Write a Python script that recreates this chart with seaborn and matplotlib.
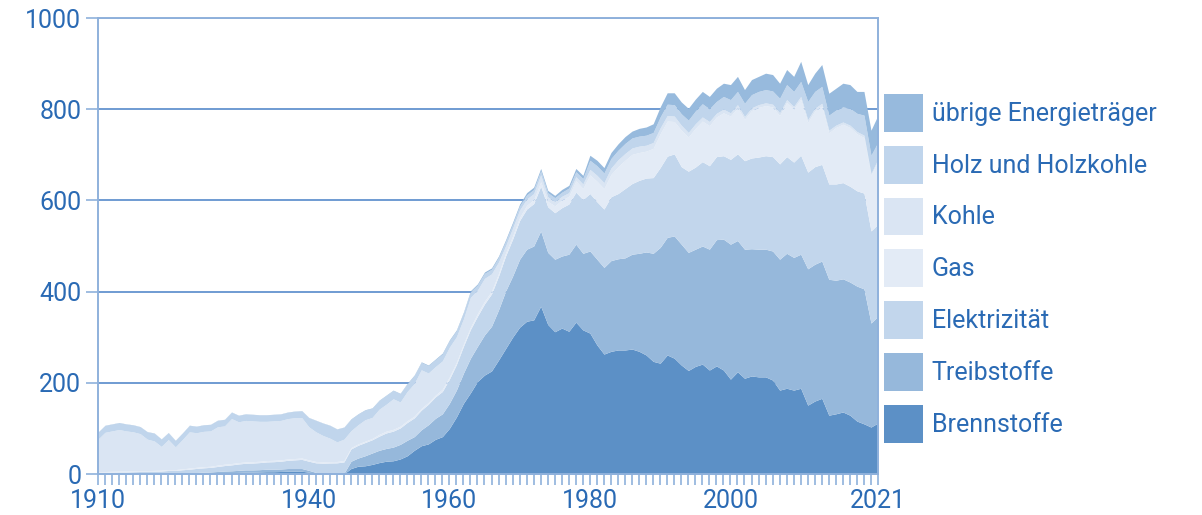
import matplotlib
matplotlib.use("Agg")
import matplotlib.pyplot as plt
import numpy as np
import pandas as pd
import seaborn as sns
from matplotlib.patches import Patch

# Endenergieverbrauch nach Energieträger, 1910-2021
years = list(range(1910, 2022))

brennstoffe = [
    0, 0, 0, 0, 0, 0, 0, 0, 0, 0,
    0.2, 0.2, 0.3, 0.5, 0.7, 1, 1.5, 2, 2.5, 3,
    3.5, 4, 4, 4.5, 5, 5, 5.5, 6, 6, 6,
    4, 1, 0.3, 0.2, 0, 0.5, 12, 17, 18, 21,
    25, 28, 29, 33, 40, 52, 62, 66, 76, 82,
    100, 125, 155, 178, 203, 217, 226, 250, 275, 300,
    322, 335, 338, 368, 328, 312, 320, 313, 333, 316,
    309, 283, 263, 269, 272, 272, 274, 269, 261, 247,
    243, 261, 254, 239, 227, 236, 241, 228, 237, 228,
    208, 224, 210, 215, 213, 213, 206, 184, 188, 184,
    188, 151, 160, 166, 129, 132, 136, 129, 116, 110,
    103, 112,
]
treibstoffe = [
    0.5, 0.5, 0.5, 0.5, 0.5, 0.5, 0.5, 0.5, 0.5, 1,
    1.5, 1.5, 2, 2, 2.5, 3, 3, 3.5, 4, 4,
    4.5, 5, 5, 5, 5.5, 5.5, 5.5, 6, 6, 6,
    4, 2.5, 1.5, 1, 0.5, 1, 16, 18, 22, 25,
    27, 28, 30, 32, 34, 30, 35, 42, 46, 50,
    55, 59, 66, 76, 77, 88, 98, 110, 126, 134,
    149, 158, 162, 165, 158, 159, 158, 169, 171, 168,
    180, 188, 190, 199, 200, 202, 208, 215, 226, 237,
    254, 258, 268, 265, 259, 257, 259, 265, 277, 287,
    296, 288, 283, 279, 280, 280, 283, 287, 296, 291,
    294, 299, 300, 301, 298, 293, 292, 292, 296, 296,
    228, 234,
]
elektrizitaet = [
    3, 3, 3.5, 4, 4, 4.5, 5, 5, 5.5, 5.5,
    6, 6, 7, 8, 9, 9.5, 10, 11, 12, 13,
    14, 14.5, 15, 15.5, 16, 16.5, 17, 18, 19, 20,
    20, 21, 22, 23, 24, 25, 27, 28, 29, 29,
    31, 34, 35, 36, 39, 41, 43, 45, 47, 49,
    53, 56, 59, 63, 66, 68, 71, 74, 77, 81,
    85, 88, 93, 98, 100, 102, 106, 110, 114, 118,
    126, 126, 128, 140, 143, 152, 155, 160, 162, 166,
    175, 178, 180, 170, 178, 180, 185, 183, 182, 183,
    186, 190, 194, 199, 202, 205, 207, 209, 212, 209,
    217, 212, 214, 212, 209, 211, 211, 210, 209, 210,
    202, 202,
]
gas = [
    2, 2, 2, 2, 2, 2, 2, 2, 2, 2,
    2, 2, 2, 2.5, 2.5, 2.5, 2.5, 3, 3, 3,
    3, 3, 3, 3, 3, 3, 3, 3, 3, 3,
    3, 3, 3, 3, 3, 3, 3, 3, 3, 3,
    4, 4, 4, 4, 4, 4, 4, 4, 4, 5,
    5, 5, 5, 5, 6, 6, 6, 6, 7, 7,
    7, 8, 9, 10, 12, 15, 17, 17, 25, 24,
    41, 45, 45, 49, 59, 62, 64, 61, 59, 64,
    74, 77, 71, 80, 75, 85, 89, 88, 87, 94,
    95, 101, 91, 104, 109, 110, 109, 106, 119, 117,
    123, 109, 122, 128, 112, 124, 128, 129, 125, 122,
    122, 139,
]
kohle = [
    71, 86, 88.5, 91, 88, 85.5, 81, 69, 64.5, 52,
    65.8, 49.8, 64.2, 79.5, 75.8, 77.5, 77.5, 84, 84, 98.5,
    89.5, 91, 89.5, 87.5, 86, 86.5, 86.5, 88.5, 89.5, 88.5,
    72.5, 65, 57.7, 51.3, 43, 47, 37, 42, 47, 46,
    55, 59, 67, 53, 64, 71.5, 84.5, 64.5, 62.5, 62,
    65, 56, 55, 65.5, 51.5, 50, 38, 25, 15, 17,
    16, 14, 13, 15, 10, 9, 8, 8, 9, 10,
    12, 13, 13, 14, 15, 15, 14, 14, 13, 13,
    13, 12, 12, 11, 10, 10, 9, 9, 8, 8,
    7, 7, 6, 6, 6, 6, 6, 6, 6, 5,
    6, 6, 6, 6, 6, 5, 5, 5, 5, 5,
    4, 4,
]
holz = [
    15, 15, 15, 15, 15, 15, 15, 16, 17, 16,
    15, 14, 14, 14, 14, 14, 14, 14, 14, 14,
    14, 14, 14, 14, 14, 14, 14, 14, 14, 15,
    20, 25, 27, 28, 28, 26, 25, 23, 21, 20,
    19, 19, 18, 18, 17, 17, 16, 16, 15, 15,
    14, 13, 13, 12, 11, 11, 10, 10, 10, 9,
    9, 9, 9, 9, 9, 9, 9, 10, 11, 12,
    20, 21, 21, 21, 21, 22, 22, 22, 22, 22,
    24, 25, 25, 25, 27, 28, 29, 28, 26, 28,
    29, 29, 29, 29, 29, 29, 29, 32, 33, 33,
    33, 40, 37, 37, 33, 33, 33, 37, 40, 44,
    40, 37,
]
uebrige = [
    0.5, 0.5, 0.5, 0.5, 0.5, 0.5, 0.5, 0.5, 0.5, 0.5,
    0.5, 0.5, 0.5, 0.5, 0.5, 0.5, 0.5, 0.5, 0.5, 0.5,
    0.5, 0.5, 0.5, 0.5, 0.5, 0.5, 0.5, 0.5, 0.5, 0.5,
    0.5, 0.5, 0.5, 0.5, 0.5, 0.5, 1, 1, 1, 1,
    1, 1, 1, 1, 1, 1.5, 1.5, 1.5, 1.5, 2,
    2, 2, 2, 2.5, 2.5, 3, 3, 3, 3.5, 4,
    4, 5, 5, 5, 5, 5, 6, 6, 7, 7,
    11, 12, 12, 13, 14, 15, 15, 17, 18, 19,
    22, 25, 26, 26, 26, 26, 27, 27, 29, 29,
    33, 33, 30, 33, 33, 36, 36, 33, 33, 33,
    44, 37, 40, 48, 48, 48, 52, 52, 48, 52,
    55, 59,
]

labels = ["Brennstoffe", "Treibstoffe", "Elektrizität", "Gas", "Kohle",
          "Holz und Holzkohle", "übrige Energieträger"]
colors = ["#5c90c6", "#96b8db", "#c2d6ec", "#e3ebf6", "#dae5f3",
          "#c0d5ec", "#97badd"]
x_labels = [1910, 1940, 1960, 1980, 2000, 2021]

df = pd.DataFrame(
    dict(zip(labels, [brennstoffe, treibstoffe, elektrizitaet, gas, kohle,
                      holz, uebrige])),
    index=years,
)

text_col = "#2a6ab4"
line_col = "#8fb1dc"
grid_col = "#6f9bd2"

sns.set_theme(style="white")
plt.rcParams["font.family"] = ["Roboto", "DejaVu Sans"]

fig = plt.figure(figsize=(12.02, 5.15), dpi=100)
ax = fig.add_axes([98 / 1202, 41 / 515, 780 / 1202, 456 / 515])

pal = sns.color_palette(colors)
ax.stackplot(df.index, df.T.values, colors=pal, linewidth=0)

ax.set_xlim(1910, 2021)
ax.set_ylim(0, 1000)
ax.set_xticks(x_labels)
ax.set_xticks(years, minor=True)
ax.set_yticks(range(0, 1001, 200))
ax.yaxis.grid(True, color=grid_col, linewidth=1.4)
ax.set_axisbelow(True)

for side in ["left", "bottom", "top", "right"]:
    ax.spines[side].set_color(line_col)
    ax.spines[side].set_linewidth(1.4)

ax.tick_params(axis="x", which="both", direction="out", length=8, width=1.2,
               color=line_col, labelsize=18, labelcolor=text_col, pad=3,
               bottom=True)
ax.tick_params(axis="y", which="major", direction="out", length=9, width=1.2,
               color=line_col, labelsize=18, labelcolor=text_col, pad=3,
               left=True)

handles = [Patch(facecolor=c, edgecolor="none") for c in pal]
fig.legend(
    handles[::-1],
    labels[::-1],
    loc="upper left",
    bbox_to_anchor=(884 / 1202, 1 - 94 / 515),
    frameon=False,
    fontsize=18,
    handlelength=1.55,
    handleheight=1.95,
    labelspacing=0.56,
    handletextpad=0.35,
    borderpad=0,
    borderaxespad=0,
    labelcolor=text_col,
)

fig.savefig("out.png", dpi=100)
